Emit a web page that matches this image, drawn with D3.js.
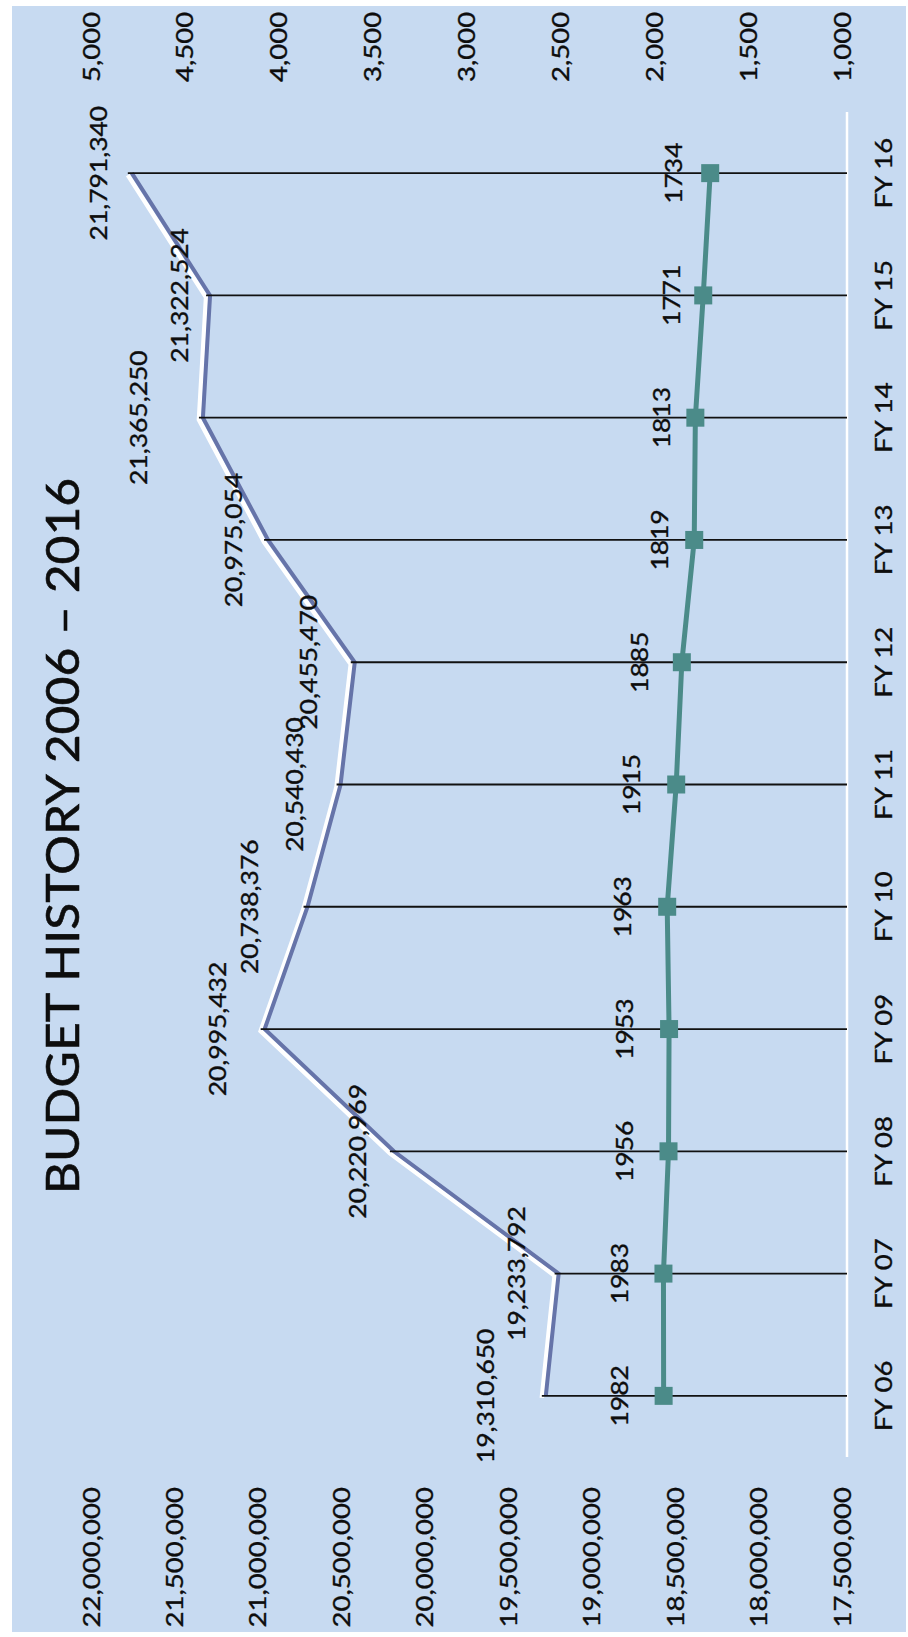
<!DOCTYPE html>
<html>
<head>
<meta charset="utf-8">
<script src="https://cdn.jsdelivr.net/npm/d3@7"></script>
<style>
  body { margin: 0; background: #fff; }
  text { font-family: Lato, "Open Sans", sans-serif; fill: #0d0d0d; stroke: #0d0d0d; stroke-width: 0.35px; }
</style>
</head>
<body>
<script>
;(() => {
    var W = 908, H = 1637; // page size (chart is drawn landscape, then turned)

    var years = ['FY 06', 'FY 07', 'FY 08', 'FY 09', 'FY 10', 'FY 11', 'FY 12', 'FY 13', 'FY 14', 'FY 15', 'FY 16'];
    var budget = [19310650, 19233792, 20220969, 20995432, 20738376, 20540430, 20455470, 20975054, 21365250, 21322524, 21791340];
    var staff = [1982, 1983, 1956, 1953, 1963, 1915, 1885, 1819, 1813, 1771, 1734];
    var budgetTicks = [22000000, 21500000, 21000000, 20500000, 20000000, 19500000, 19000000, 18500000, 18000000, 17500000];
    var staffTicks = [5000, 4500, 4000, 3500, 3000, 2500, 2000, 1500, 1000];

    // hand placed labels, px above their point
    var budgetLabelUp = [60, 42, 36, 47, 58, 46, 46, 34, 64, 30, 33];
    var staffLabelUp = [44, 44, 44, 44, 44, 44, 42, 34, 34, 31, 36];

    var stretch = 1.15; // text looks pulled along the long side
    var fmt = d3.format(',');

    var svg = d3.select('body')
        .append('svg')
        .attr('width', W)
        .attr('height', H);

    svg.append('rect')
        .attr('x', 12).attr('y', 6)
        .attr('width', W - 14).attr('height', H - 11)
        .attr('fill', '#c7daf1');

    // landscape chart: X runs 0..H, Y runs 0..W
    var g = svg.append('g')
        .attr('transform', 'translate(0,' + H + ') rotate(-90)');

    var x = d3.scaleBand().domain(years).range([180, 1525]),
        cx = d => x(d) + x.bandwidth() / 2,
        yL = d3.scaleLinear().domain([17500000, 22000000]).range([848, 97]),
        yR = d3.scaleLinear().domain([1000, 5000]).range([848, 97]);

    function place(sel, fx, fy, k) {
        return sel.attr('transform', (d, i) => 'translate(' + fx(d, i) + ',' + fy(d, i) + ') scale(' + (k || stretch) + ',1)');
    }

    // title
    place(g.append('text').datum(0), () => 801, () => 62 + 0.358 * 47, 1.06)
        .attr('text-anchor', 'middle')
        .attr('font-size', 47)
        .style('stroke-width', '0.6px')
        .text('BUDGET HISTORY 2006 \u2013 2016');

    // axis labels
    var fs = 24, mid = 0.358 * fs;
    place(g.selectAll('.lt').data(budgetTicks).enter().append('text'),
        () => 150, d => yL(d) - 6 + mid)
        .attr('text-anchor', 'end')
        .attr('font-size', fs)
        .text(d => fmt(d));

    place(g.selectAll('.rt').data(staffTicks).enter().append('text'),
        () => 1555, d => yR(d) - 6 + mid)
        .attr('text-anchor', 'start')
        .attr('font-size', fs)
        .text(d => fmt(d));

    place(g.selectAll('.ct').data(years).enter().append('text'),
        d => cx(d), () => 883 + mid)
        .attr('text-anchor', 'middle')
        .attr('font-size', fs)
        .text(d => d);

    // category axis line
    g.append('line')
        .attr('x1', x.range()[0]).attr('x2', x.range()[1])
        .attr('y1', 847).attr('y2', 847)
        .attr('stroke', '#fff')
        .attr('stroke-width', 2.5);

    var pts = years.map((d, i) => ({ yr: d, b: budget[i], s: staff[i], i: i }));

    var budgetLine = d3.line().x(d => cx(d.yr)).y(d => yL(d.b));
    var staffLine = d3.line().x(d => cx(d.yr)).y(d => yR(d.s));

    // white shadow under budget line
    g.append('path')
        .attr('d', budgetLine(pts))
        .attr('transform', 'translate(-2,-4)')
        .attr('fill', 'none')
        .attr('stroke', '#fff')
        .attr('stroke-width', 4.5);

    g.append('path')
        .attr('d', budgetLine(pts))
        .attr('fill', 'none')
        .attr('stroke', '#6674a9')
        .attr('stroke-width', 4);

    // drop lines
    g.selectAll('.drop').data(pts).enter().append('line')
        .attr('x1', d => cx(d.yr)).attr('x2', d => cx(d.yr))
        .attr('y1', d => yL(d.b) - 4).attr('y2', 847)
        .attr('stroke', '#111')
        .attr('stroke-width', 1.8);

    g.append('path')
        .attr('d', staffLine(pts))
        .attr('fill', 'none')
        .attr('stroke', '#4b8b89')
        .attr('stroke-width', 5);

    g.selectAll('.mk').data(pts).enter().append('rect')
        .attr('x', d => cx(d.yr) - 9)
        .attr('y', d => yR(d.s) - 9)
        .attr('width', 18).attr('height', 18)
        .attr('fill', '#4b8b89');

    // data labels
    var dfs = 23, dmid = 0.358 * dfs;
    place(g.selectAll('.bl').data(pts).enter().append('text'),
        d => cx(d.yr), d => yL(d.b) - budgetLabelUp[d.i] + dmid)
        .attr('text-anchor', 'middle')
        .attr('font-size', dfs)
        .text(d => fmt(d.b));

    place(g.selectAll('.sl').data(pts).enter().append('text'),
        d => cx(d.yr), d => yR(d.s) - staffLabelUp[d.i] + dmid)
        .attr('text-anchor', 'middle')
        .attr('font-size', dfs)
        .text(d => d.s);
})();
</script>
</body>
</html>
